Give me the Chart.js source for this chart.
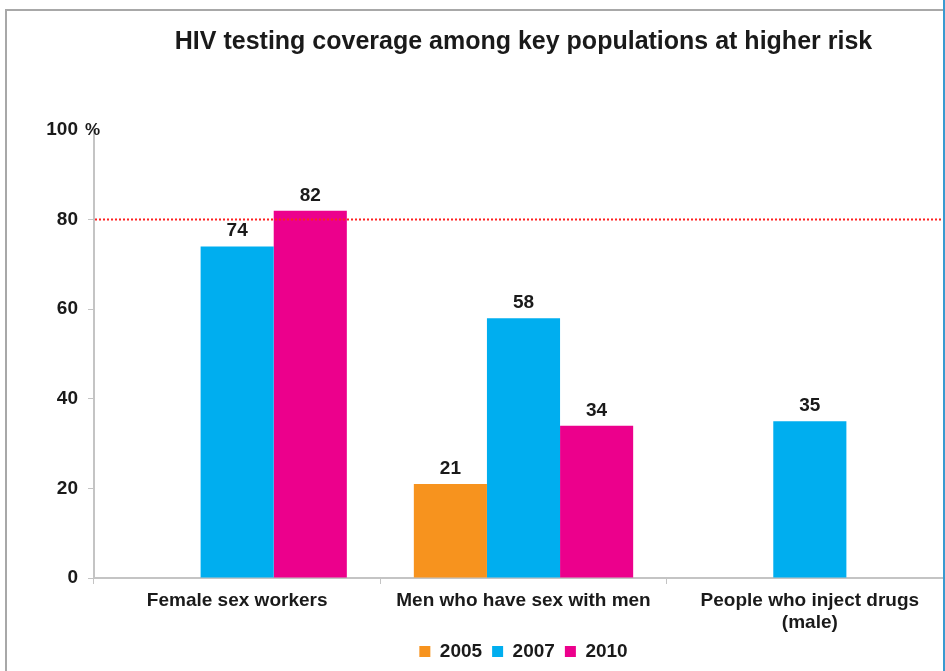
<!DOCTYPE html>
<html>
<head>
<meta charset="utf-8">
<script src="https://cdn.jsdelivr.net/npm/chart.js@4.4.1/dist/chart.umd.min.js"></script>
<style>
  html, body { margin: 0; padding: 0; background: #fff; overflow: hidden; width: 945px; height: 671px; }
  #wrap { position: relative; width: 945px; height: 671px; overflow: hidden; }
  canvas { position: absolute; left: 0; top: 0; }
  .frameTop { position: absolute; left: 5px; top: 9px; width: 938px; height: 2px; background: #a8a8a8; }
  .frameLeft { position: absolute; left: 5px; top: 9px; width: 2px; height: 662px; background: #a8a8a8; }
  .frameRight { position: absolute; left: 943px; top: 0; width: 2px; height: 671px; background: #3a9ad0; }
</style>
</head>
<body>
<div id="wrap">
  <canvas id="c" width="965" height="671"></canvas>
  <div class="frameTop"></div>
  <div class="frameLeft"></div>
  <div class="frameRight"></div>
</div>
<script>
const titleText = 'HIV testing coverage among key populations at higher risk';
const categories = ['Female sex workers', 'Men who have sex with men', ['People who inject drugs', '(male)']];
const seriesNames = ['2005', '2007', '2010'];
const values2005 = [null, 21, null];
const values2007 = [74, 58, 35];
const values2010 = [82, 34, null];
const yTicks = [0, 20, 40, 60, 80, 100];
const targetLine = 80;
const unitLabel = '%';

const colors = ['#F7931E', '#00AEEF', '#EC008C'];
const FONT = "'Liberation Sans', Arial, sans-serif";
const TEXT = '#1a1a1a';

const dataLabels = {
  id: 'dataLabels',
  afterDatasetsDraw(chart) {
    const ctx = chart.ctx;
    ctx.save();
    ctx.font = 'bold 19px ' + FONT;
    ctx.fillStyle = TEXT;
    ctx.textAlign = 'center';
    ctx.textBaseline = 'alphabetic';
    chart.data.datasets.forEach((ds, i) => {
      const meta = chart.getDatasetMeta(i);
      meta.data.forEach((el, j) => {
        const v = ds.data[j];
        if (v === null || v === undefined) return;
        ctx.fillText(String(v), el.x, el.y - 10);
      });
    });
    ctx.restore();
  }
};

const refLine = {
  id: 'refLine',
  afterDatasetsDraw(chart) {
    const ctx = chart.ctx;
    const y = chart.scales.y.getPixelForValue(targetLine);
    ctx.save();
    ctx.strokeStyle = '#ff2020';
    ctx.lineWidth = 2;
    ctx.setLineDash([2, 2]);
    ctx.beginPath();
    ctx.moveTo(chart.chartArea.left + 1, y);
    ctx.lineTo(chart.width, y);
    ctx.stroke();
    ctx.restore();
  }
};

const unitPlugin = {
  id: 'unitPlugin',
  afterDraw(chart) {
    const ctx = chart.ctx;
    const y = chart.scales.y.getPixelForValue(yTicks[yTicks.length - 1]);
    ctx.save();
    ctx.font = 'bold 17px ' + FONT;
    ctx.fillStyle = TEXT;
    ctx.textAlign = 'left';
    ctx.textBaseline = 'middle';
    ctx.fillText(unitLabel, chart.chartArea.left - 9, y);
    ctx.restore();
  }
};

new Chart(document.getElementById('c'), {
  type: 'bar',
  data: {
    labels: categories,
    datasets: [
      { label: seriesNames[0], data: values2005, backgroundColor: colors[0] },
      { label: seriesNames[1], data: values2007, backgroundColor: colors[1] },
      { label: seriesNames[2], data: values2010, backgroundColor: colors[2] }
    ]
  },
  options: {
    responsive: false,
    devicePixelRatio: 1,
    animation: false,
    events: [],
    layout: { padding: { left: 0, right: 12, top: 0, bottom: 0 } },
    datasets: { bar: { categoryPercentage: 0.766, barPercentage: 1.0, borderWidth: 0 } },
    plugins: {
      tooltip: { enabled: false },
      title: {
        display: true,
        text: titleText,
        fullSize: false,
        color: TEXT,
        font: { family: FONT, size: 25, weight: 'bold', lineHeight: 1.2 },
        padding: { top: 27, bottom: 73 }
      },
      legend: {
        position: 'bottom',
        fullSize: false,
        labels: {
          color: TEXT,
          font: { family: FONT, size: 19, weight: 'bold' },
          boxWidth: 11,
          boxHeight: 11,
          padding: 10
        }
      }
    },
    scales: {
      x: {
        afterFit(s) { s.height = 54; },
        grid: { display: true, drawOnChartArea: false, drawTicks: true, tickLength: 6, color: '#c4c4c4', offset: true },
        border: { display: true, color: '#c4c4c4', width: 2 },
        ticks: {
          color: TEXT,
          padding: 6,
          maxRotation: 0,
          autoSkip: false,
          font: { family: FONT, size: 19, weight: 'bold', lineHeight: 1.15 }
        }
      },
      y: {
        min: 0,
        max: 100,
        afterFit(s) { s.width = 94; },
        afterBuildTicks(s) { s.ticks = yTicks.map(v => ({ value: v })); },
        grid: {
          display: true, drawOnChartArea: false, drawTicks: true, tickLength: 6,
          color: (c) => (c.tick && c.tick.value === 100 ? 'rgba(0,0,0,0)' : '#c4c4c4')
        },
        border: { display: true, color: '#c4c4c4', width: 2 },
        ticks: {
          color: TEXT,
          padding: 10,
          font: { family: FONT, size: 19, weight: 'bold' },
          callback: (v) => String(v)
        }
      }
    }
  },
  plugins: [dataLabels, refLine, unitPlugin]
});
</script>
</body>
</html>
